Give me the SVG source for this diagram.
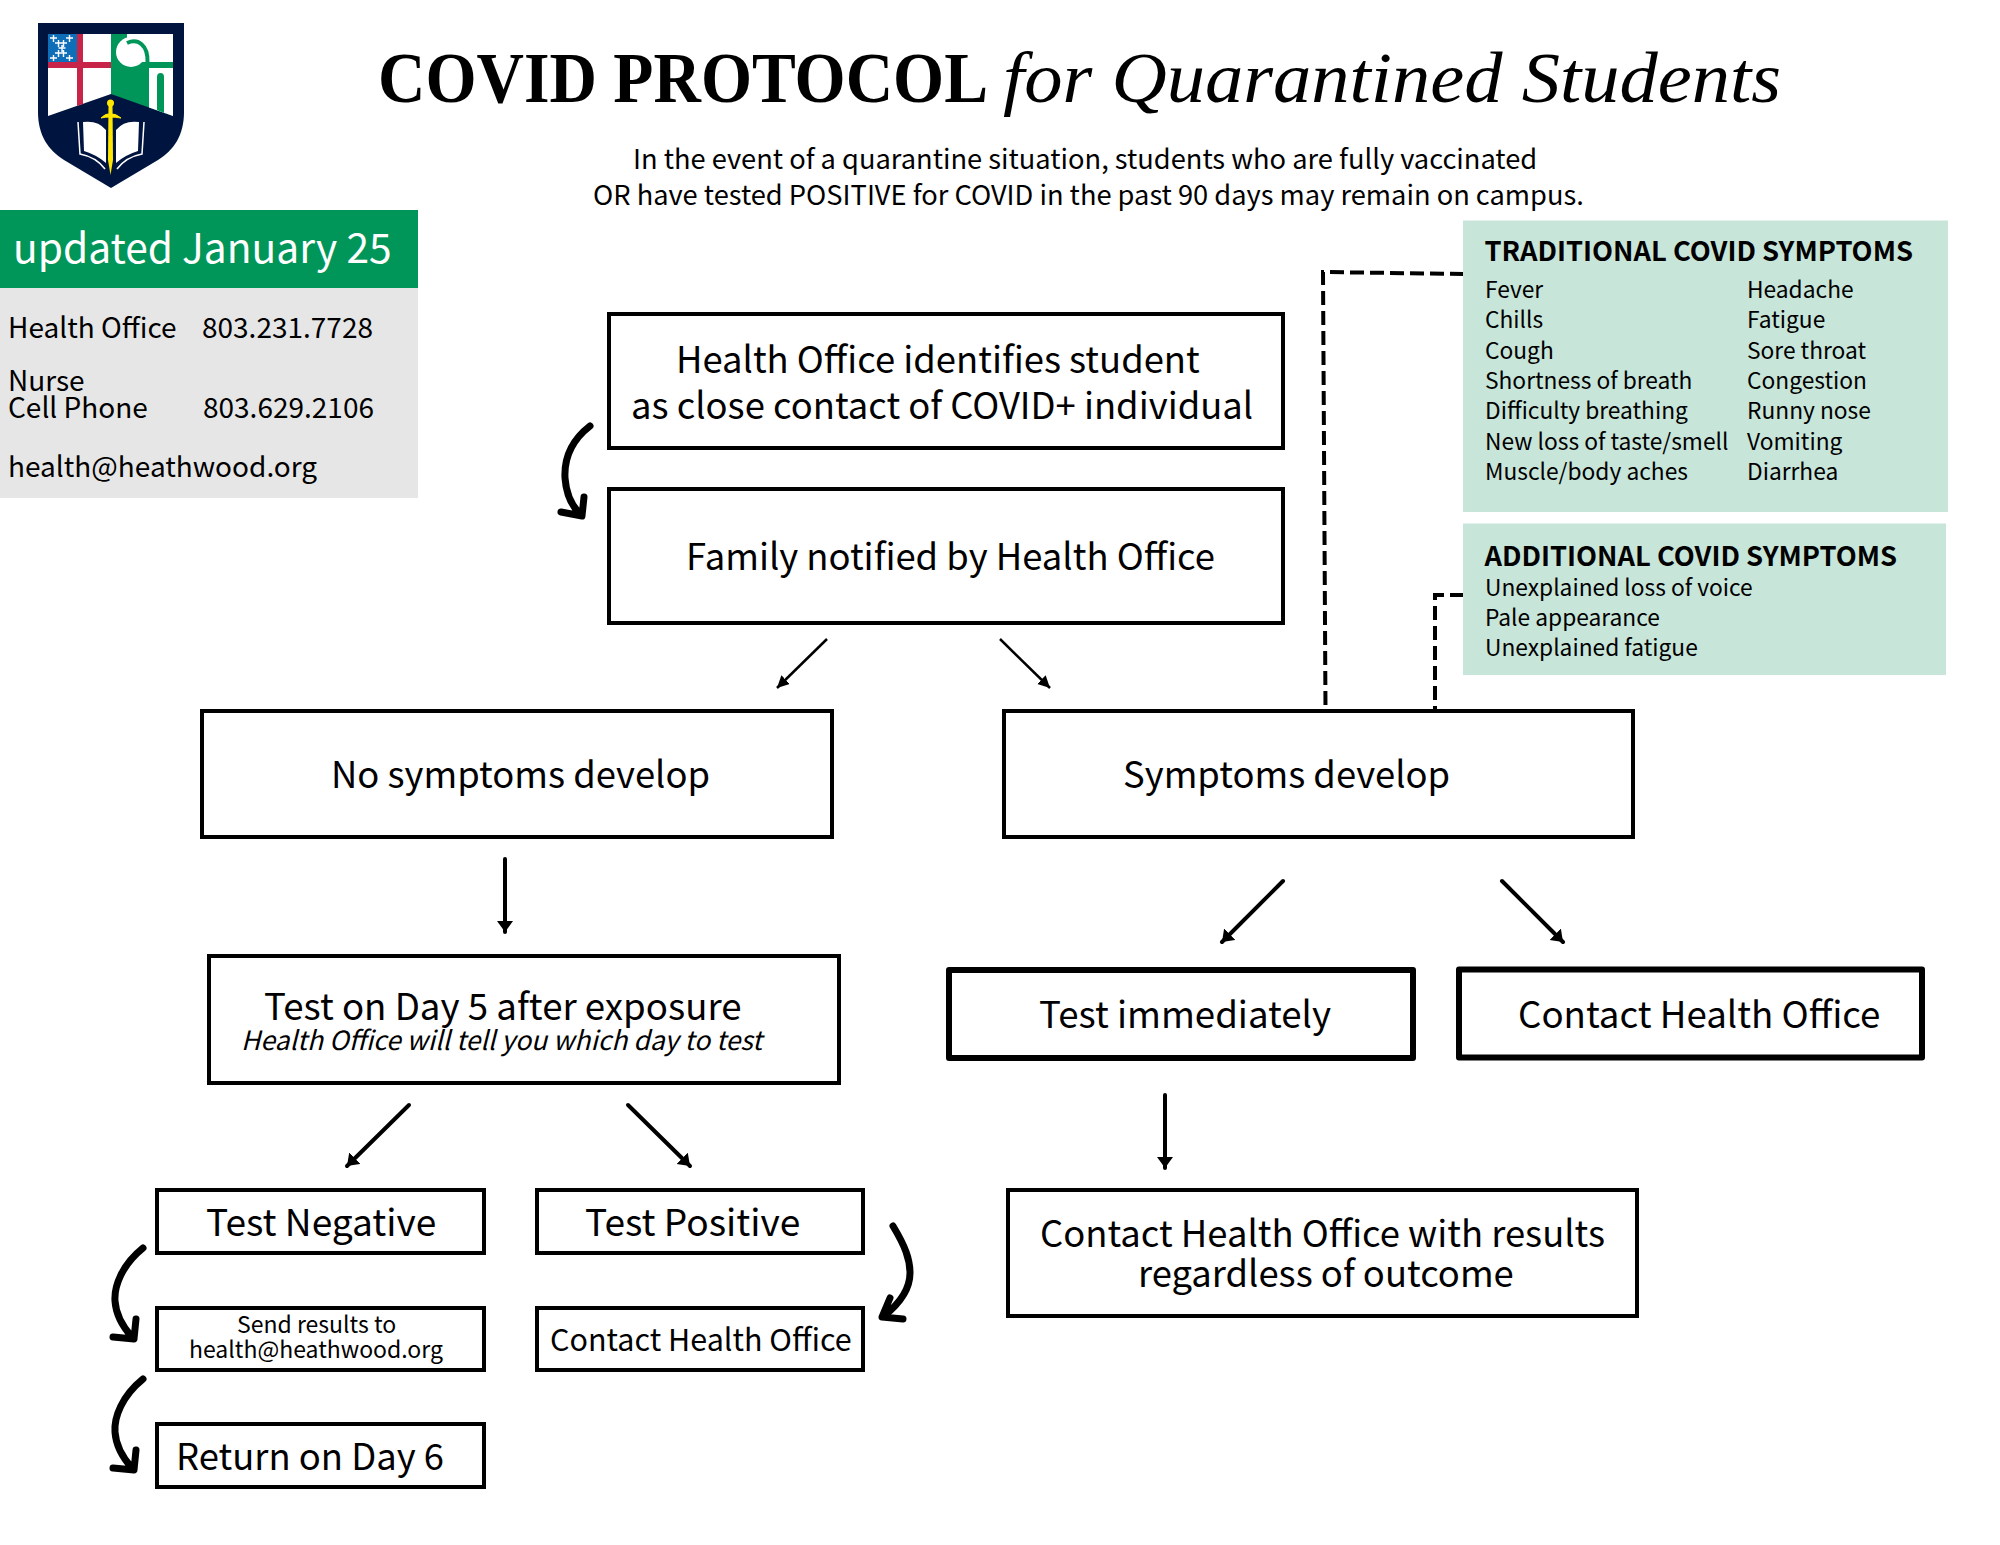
<svg xmlns="http://www.w3.org/2000/svg" width="2000" height="1545" viewBox="0 0 2000 1545">
<style>
text{font-family:"Noto Sans CJK SC","Noto Sans","Liberation Sans",sans-serif;fill:#000}
.box{fill:#fff;stroke:#000;stroke-width:4}
.thick{fill:#fff;stroke:#000;stroke-width:6;stroke-linejoin:round}
.big{font-size:36.4px}
.t366{font-size:36.650px}
.t37{font-size:37.100px}
.sym{font-size:22.750px}
.hd{font-size:27.300px;font-weight:700}
.grey{font-size:28px}
.sub{font-size:27.250px}
.thin{fill:none;stroke:#000;stroke-width:2.500;marker-end:url(#tip)}
.med{fill:none;stroke:#000;stroke-width:4;stroke-linecap:round;marker-end:url(#tip2)}
.curve{fill:none;stroke:#000;stroke-width:7;stroke-linecap:round;stroke-linejoin:round}
.dash{fill:none;stroke:#000;stroke-width:4;stroke-dasharray:14 6}
.x{fill:none;stroke:#fff;stroke-width:1.400}
</style>
<defs>
<marker id="tip" markerUnits="userSpaceOnUse" markerWidth="14" markerHeight="14" refX="12" refY="6" orient="auto"><path d="M0,0L12,6L0,12Z" fill="#000"/></marker>
<marker id="tip2" markerUnits="userSpaceOnUse" markerWidth="16" markerHeight="18" refX="11" refY="8" orient="auto"><path d="M0,0L11,8L0,16Z" fill="#000"/></marker>
</defs>
<rect width="2000" height="1545" fill="#fff"/>

<g id="logo">
<path d="M38,23H184V112C184,135 174,150 158,160L111,188L64,160C48,150 38,135 38,112Z" fill="#001440"/>
<path d="M48,34H111V94L48,116Z" fill="#fff"/>
<rect x="48" y="34" width="29" height="28" fill="#0f6eb8"/>
<path class="x" d="M50,38h7M53.500,35v7M66,38h7M69.500,35v7M55,43h7M58.500,40v7M60,43h7M63.500,40v7M58.500,48h7M62,45v7M55,53h7M58.500,50v7M60,53h7M63.500,50v7M50,58h7M53.500,55v6M66,58h7M69.500,55v6"/>
<path d="M77,34H83V62H111V68H83V104L77,106V68H48V62H77Z" fill="#c8244a"/>
<path d="M111,34H173V116L111,94Z" fill="#00965a"/>
<rect x="127" y="34" width="46" height="28" fill="#fff"/>
<circle cx="131" cy="52" r="15" fill="#fff"/>
<path d="M127,43C138,38 148,45 147.500,62" fill="none" stroke="#00965a" stroke-width="4"/>
<path d="M149,68H173V116L149,107.500Z" fill="#fff"/>
<path d="M157,110V77Q157,73 160.500,73Q164,73 164,77V113Z" fill="#00965a"/>
<path d="M83,122Q98,120 106,130V163Q97,155 84,151Z M139,122Q124,120 116,130V163Q125,155 138,151Z" fill="#fff"/>
<path d="M78,122L80,154Q96,157 105,169M144,122L142,154Q126,157 117,169" fill="none" stroke="#fff" stroke-width="1.500"/>
<path d="M108.500,105H112.500L113,160L110.500,175L108,160Z" fill="#ffe600"/>
<circle cx="110.500" cy="103" r="3.500" fill="#ffe600"/>
<path d="M101,118Q106,113 110,114Q115,113 121,118Q115,117 110,117Q105,117 101,118Z" fill="#ffe600" stroke="#ffe600" stroke-width="1"/>
</g>

<g id="title">
<text x="378" y="102" font-size="71" font-weight="700" style="font-family:'Liberation Serif',serif" textLength="610" lengthAdjust="spacingAndGlyphs">COVID PROTOCOL</text>
<text x="1003" y="102" font-size="71" font-style="italic" style="font-family:'Liberation Serif',serif" textLength="778" lengthAdjust="spacingAndGlyphs">for Quarantined Students</text>
<text class="sub" x="633" y="169">In the event of a quarantine situation, students who are fully vaccinated</text>
<text class="sub" x="593" y="205">OR have tested POSITIVE for COVID in the past 90 days may remain on campus.</text>
</g>

<g id="contact-panel">
<rect x="0" y="210" width="418" height="78" fill="#00965a"/>
<rect x="0" y="288" width="418" height="210" fill="#e6e6e6"/>
<text x="13" y="263" font-size="40.700" style="fill:#fff">updated January 25</text>
<text class="grey" x="8" y="337.500">Health Office</text>
<text class="grey" x="202" y="337.500">803.231.7728</text>
<text class="grey" x="8" y="391">Nurse</text>
<text class="grey" x="8" y="418">Cell Phone</text>
<text class="grey" x="203" y="418">803.629.2106</text>
<text class="grey" x="8" y="477">health@heathwood.org</text>
</g>

<g id="connectors">
<path class="dash" d="M1464,274L1323,272L1325.500,710"/>
<path class="dash" d="M1464,595H1435V710"/>
<path class="thin" d="M827,639L777,688"/>
<path class="thin" d="M1000,639L1050,688"/>
<path class="med" d="M505,859V932"/>
<path class="med" d="M1283,881L1222,942"/>
<path class="med" d="M1502,881L1563,942"/>
<path class="med" d="M1165,1095V1168"/>
<path class="med" d="M409,1105L347,1166"/>
<path class="med" d="M628,1105L690,1166"/>
<path class="curve" d="M590,426C572,440 564,458 565,478C566,492 571,505 580,514M561,512L582,516L584,497"/>
<path class="curve" d="M143,1248C122,1265 114,1286 115,1301C116,1316 123,1327 132,1337M113,1337L134,1339L136,1319"/>
<path class="curve" d="M143,1379C122,1396 114,1417 115,1432C116,1447 123,1458 132,1468M113,1468L134,1470L136,1450"/>
<path class="curve" d="M893,1226C905,1246 910,1259 910,1273C910,1289 899,1304 884,1316M903,1319L882,1317L890,1298"/>
</g>

<g id="traditional-symptoms">
<rect x="1463" y="220.500" width="485" height="291.500" fill="#c7e5d9"/>
<text class="hd" x="1484.500" y="261">TRADITIONAL COVID SYMPTOMS</text>
<text class="sym" x="1485" y="298">Fever</text><text class="sym" x="1485" y="328">Chills</text><text class="sym" x="1485" y="359">Cough</text><text class="sym" x="1485" y="389">Shortness of breath</text><text class="sym" x="1485" y="419">Difficulty breathing</text><text class="sym" x="1485" y="450">New loss of taste/smell</text><text class="sym" x="1485" y="480">Muscle/body aches</text>
<text class="sym" x="1747" y="298">Headache</text><text class="sym" x="1747" y="328">Fatigue</text><text class="sym" x="1747" y="359">Sore throat</text><text class="sym" x="1747" y="389">Congestion</text><text class="sym" x="1747" y="419">Runny nose</text><text class="sym" x="1747" y="450">Vomiting</text><text class="sym" x="1747" y="480">Diarrhea</text>
</g>
<g id="additional-symptoms">
<rect x="1463" y="523.500" width="483" height="151.500" fill="#c7e5d9"/>
<text class="hd" x="1484.500" y="565.500">ADDITIONAL COVID SYMPTOMS</text>
<text class="sym" x="1485" y="596">Unexplained loss of voice</text><text class="sym" x="1485" y="626">Pale appearance</text><text class="sym" x="1485" y="656">Unexplained fatigue</text>
</g>

<g id="identifies"><rect class="box" x="609" y="314" width="674" height="134"/>
<text class="big" x="676" y="373">Health Office identifies student</text><text class="big" x="631" y="419">as close contact of COVID+ individual</text></g>
<g id="family"><rect class="box" x="609" y="489" width="674" height="134"/>
<text class="big" x="686" y="570">Family notified by Health Office</text></g>
<g id="no-symptoms"><rect class="box" x="202" y="711" width="630" height="126"/>
<text class="big" x="331" y="788">No symptoms develop</text></g>
<g id="symptoms"><rect class="box" x="1004" y="711" width="629" height="126"/>
<text class="big" x="1123" y="788">Symptoms develop</text></g>
<g id="test-day5"><rect class="box" x="209" y="956" width="630" height="127"/>
<text class="t366" x="264" y="1020">Test on Day 5 after exposure</text><text x="241" y="1050" font-size="26.500" font-style="italic">Health Office will tell you which day to test</text></g>
<g id="test-now"><rect class="thick" x="949" y="970" width="464" height="88"/>
<text class="t366" x="1039" y="1028">Test immediately</text></g>
<g id="contact-office"><rect class="thick" x="1459" y="969.500" width="463" height="88"/>
<text class="t366" x="1518" y="1028">Contact Health Office</text></g>
<g id="contact-results"><rect class="box" x="1008" y="1190" width="629" height="126"/>
<text class="big" x="1040" y="1247">Contact Health Office with results</text><text class="big" x="1138" y="1287">regardless of outcome</text></g>
<g id="test-negative"><rect class="box" x="157" y="1190" width="327" height="63"/>
<text class="t37" x="206" y="1236">Test Negative</text></g>
<g id="test-positive"><rect class="box" x="537" y="1190" width="326" height="63"/>
<text class="t37" x="585" y="1236">Test Positive</text></g>
<g id="send-results"><rect class="box" x="157" y="1308" width="327" height="62"/>
<text x="237" y="1333" font-size="23">Send results to</text><text x="189" y="1358" font-size="23">health@heathwood.org</text></g>
<g id="contact-small"><rect class="box" x="537" y="1308" width="326" height="62"/>
<text x="550" y="1351" font-size="30.500">Contact Health Office</text></g>
<g id="return"><rect class="box" x="157" y="1424" width="327" height="63"/>
<text class="big" x="176" y="1470">Return on Day 6</text></g>
</svg>
